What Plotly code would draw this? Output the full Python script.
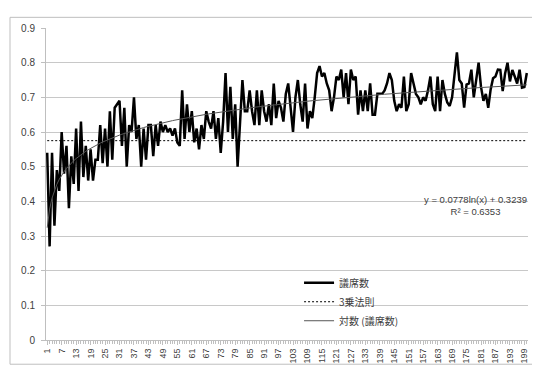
import numpy as np
import plotly.graph_objects as go

# --- data ---
seats = [
    0.54, 0.27, 0.54, 0.33, 0.49, 0.43, 0.60, 0.48, 0.56, 0.38,
    0.53, 0.45, 0.61, 0.43, 0.63, 0.47, 0.56, 0.46, 0.55, 0.46,
    0.52, 0.52, 0.62, 0.51, 0.61, 0.50, 0.66, 0.52, 0.67, 0.68,
    0.69, 0.56, 0.67, 0.50, 0.62, 0.60, 0.70, 0.58, 0.62, 0.50,
    0.61, 0.52, 0.62, 0.62, 0.53, 0.62, 0.56, 0.63, 0.60, 0.62,
    0.60, 0.61, 0.59, 0.61, 0.57, 0.56, 0.72, 0.58, 0.68, 0.60,
    0.66, 0.57, 0.61, 0.55, 0.62, 0.58, 0.66, 0.63, 0.61, 0.66,
    0.58, 0.64, 0.54, 0.63, 0.77, 0.60, 0.73, 0.58, 0.68, 0.50,
    0.64, 0.75, 0.66, 0.66, 0.72, 0.66, 0.62, 0.72, 0.62, 0.72,
    0.66, 0.63, 0.68, 0.62, 0.74, 0.64, 0.69, 0.67, 0.63, 0.71,
    0.74, 0.66, 0.60, 0.70, 0.75, 0.68, 0.63, 0.74, 0.61, 0.66,
    0.64, 0.70, 0.77, 0.79, 0.76, 0.77, 0.74, 0.72, 0.66, 0.70,
    0.76, 0.75, 0.78, 0.70, 0.77, 0.68, 0.78, 0.75, 0.76, 0.65,
    0.72, 0.66, 0.72, 0.66, 0.74, 0.65, 0.65, 0.71, 0.71, 0.71,
    0.72, 0.74, 0.77, 0.75, 0.69, 0.66, 0.68, 0.67, 0.76, 0.66,
    0.68, 0.77, 0.74, 0.71, 0.70, 0.68, 0.70, 0.69, 0.72, 0.76,
    0.68, 0.66, 0.76, 0.66, 0.75, 0.71, 0.685, 0.675, 0.70, 0.76,
    0.83, 0.75, 0.74, 0.67, 0.737, 0.74, 0.78, 0.70, 0.75, 0.80,
    0.73, 0.69, 0.71, 0.67, 0.723, 0.755, 0.76, 0.78, 0.779, 0.718,
    0.769, 0.80, 0.746, 0.779, 0.76, 0.74, 0.78, 0.728, 0.73, 0.77,
]
x_idx = list(range(1, len(seats) + 1))
cube_law = 0.575
trend_a, trend_b = 0.0778, 0.3239
tick_labels = list(range(1, 201, 6))
y_ticks = [0, 0.1, 0.2, 0.3, 0.4, 0.5, 0.6, 0.7, 0.8, 0.9]

trend = [trend_a * np.log(v) + trend_b for v in x_idx]

fig = go.Figure()
fig.add_trace(go.Scatter(x=x_idx, y=seats, mode="lines", name="議席数",
                         line=dict(color="#000000", width=2.5)))
fig.add_trace(go.Scatter(x=x_idx, y=[cube_law] * len(x_idx), mode="lines",
                         name="3乗法則",
                         line=dict(color="#000000", width=1, dash="2px,2px")))
fig.add_trace(go.Scatter(x=x_idx, y=trend, mode="lines", name="対数 (議席数)",
                         line=dict(color="#555555", width=1)))

fig.update_layout(
    width=540, height=368,
    margin=dict(l=38, r=20, t=20, b=26),
    paper_bgcolor="white", plot_bgcolor="white",
    font=dict(family="Liberation Sans, Noto Sans CJK JP", size=10, color="#404040"),
    showlegend=True,
    legend=dict(x=0.525, y=0.23, xanchor="left", yanchor="top",
                bgcolor="rgba(0,0,0,0)", itemwidth=30,
                font=dict(family="Noto Sans CJK JP", size=10, color="#404040"),
                tracegroupgap=0),
    xaxis=dict(range=[0.5, 200.5], tickmode="array", tickvals=tick_labels,
               ticktext=[str(t) for t in tick_labels], tickangle=-90,
               showgrid=False, showline=True, linecolor="#bfbfbf",
               ticks="outside", ticklen=4, tickcolor="#bfbfbf",
               minor=dict(dtick=1, tick0=1, ticks="outside", ticklen=3,
                          tickcolor="#bfbfbf", showgrid=False),
               tickfont=dict(size=9, color="#404040"), zeroline=False),
    yaxis=dict(range=[0, 0.9], tickmode="array", tickvals=y_ticks,
               ticktext=["0", "0.1", "0.2", "0.3", "0.4", "0.5", "0.6", "0.7", "0.8", "0.9"],
               showgrid=True, gridcolor="#c8c8c8", gridwidth=1,
               showline=True, linecolor="#bfbfbf", ticks="outside", ticklen=4,
               tickcolor="#bfbfbf", zeroline=False, ticklabelstandoff=4,
               tickfont=dict(size=10, color="#404040")),
)

fig.add_annotation(xref="paper", yref="paper", x=(467 - 38) / 482, y=(342 - 203) / 322,
                   xanchor="center", yanchor="middle",
                   text="y = 0.0778ln(x) + 0.3239<br>R² = 0.6353",
                   showarrow=False, align="center",
                   font=dict(size=9.5, color="#404040"))

fig.add_shape(type="rect", xref="paper", yref="paper",
              x0=(2 - 38) / 482, x1=(539 - 38) / 482,
              y0=(342 - 367) / 322, y1=(342 - 9) / 322,
              line=dict(color="#bfbfbf", width=1), layer="below")

fig.write_html("out.html")
